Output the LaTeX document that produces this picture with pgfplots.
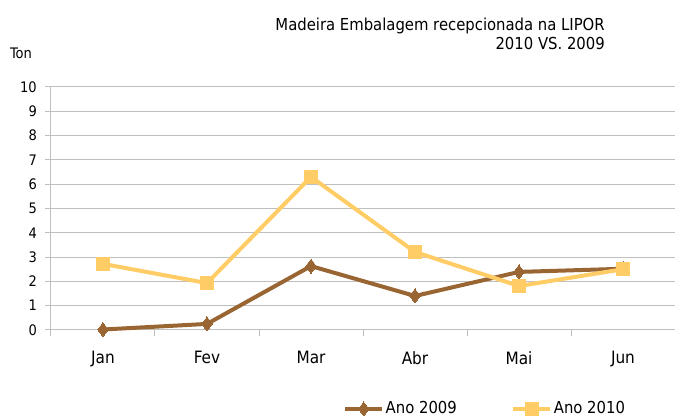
\documentclass[border=0pt]{standalone}
\usepackage{fontspec}
\setmainfont{DejaVu Sans Condensed}
\usepackage{pgfplots}
\pgfplotsset{compat=1.18}
\definecolor{c09}{RGB}{153,102,51}
\definecolor{c10}{RGB}{255,204,102}
\definecolor{gridc}{RGB}{191,191,191}
\begin{document}
\fontsize{15}{18}\selectfont
\begin{tikzpicture}
\path[use as bounding box] (-51pt,-89pt) rectangle (624pt,330pt);
\begin{axis}[
  at={(0,0)}, anchor=south west,
  scale only axis, width=624pt, height=243pt,
  xmin=-0.5, xmax=5.5, ymin=0, ymax=10,
  xtick={0,...,5}, xticklabels={Jan,Fev,Mar,Abr,Mai,Jun},
  major x tick style={draw=none},
  minor xtick={-0.5,0.5,...,5.5},
  ytick={0,...,10},
  tick align=outside, major tick length=6pt, minor tick length=6pt,
  tick style={gridc, line width=1pt},
  ymajorgrids, major grid style={gridc, line width=1pt},
  axis x line*=bottom, axis y line*=left,
  axis line style={gridc, line width=1pt, -},
  x axis line style={-}, y axis line style={-},
  /pgf/number format/assume math mode=true,
  ticklabel style={text=black},
  yticklabel style={font=\fontsize{14.5}{17}\selectfont, xshift=-3pt},
  xticklabel style={font=\fontsize{17}{20}\selectfont, yshift=-10pt},
  legend columns=2,
  legend style={draw=none, fill=none, inner sep=0pt, at={(0.468,-0.325)}, anchor=west,
    font=\fontsize{16.5}{20}\selectfont, nodes={inner sep=1.5pt},
    /tikz/every even column/.append style={column sep=53pt}},
  legend image code/.code={\draw[#1, mark repeat=2, mark phase=2] plot coordinates {(0pt,0pt) (18.5pt,0pt) (37pt,0pt)};},
  clip=false,
]
\addplot[c09, line width=4pt, mark=diamond*, mark size=7pt, mark options={solid, line width=0pt, fill=c09}] coordinates {(0,0.02) (1,0.25) (2,2.63) (3,1.4) (4,2.39) (5,2.52)};
\addlegendentry{Ano 2009}
\addplot[c10, line width=4pt, mark=square*, mark size=6.5pt, mark options={solid, line width=0pt, fill=c10}] coordinates {(0,2.72) (1,1.93) (2,6.3) (3,3.21) (4,1.81) (5,2.5)};
\addlegendentry{Ano 2010}
\end{axis}
\node[anchor=base west, inner sep=0pt, font=\fontsize{14.5}{17}\selectfont] at (-41pt,271pt) {Ton};
\node[anchor=base east, inner sep=0pt, font=\fontsize{16.5}{20}\selectfont] at (554pt,299pt) {Madeira Embalagem recepcionada na LIPOR};
\node[anchor=base east, inner sep=0pt, font=\fontsize{16.5}{20}\selectfont] at (554pt,280pt) {2010 VS. 2009};
\end{tikzpicture}
\end{document}
